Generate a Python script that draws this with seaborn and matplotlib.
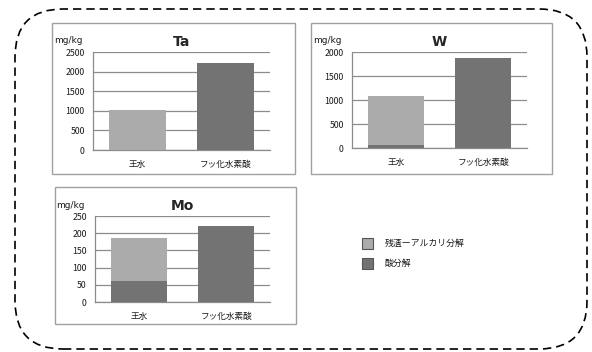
import numpy as np
import pandas as pd
import matplotlib
matplotlib.use('Agg')
import matplotlib.pyplot as plt
import matplotlib.transforms as mtransforms
from matplotlib.patches import FancyBboxPatch, Rectangle
import seaborn as sns

# data
categories = ['王水', 'フッ化水素酸']
ta_acid = [0, 2230]
ta_resid = [1010, 0]
w_acid = [70, 1870]
w_resid = [1020, 0]
mo_acid = [60, 220]
mo_resid = [127, 0]
legend_labels = ['残渣ーアルカリ分解', '酸分解']

LIGHT = '#ababab'
DARK = '#737373'
GRID = '#8c8c8c'

sns.set_theme(style='white')
plt.rcParams['font.family'] = ['Noto Sans CJK JP', 'DejaVu Sans']

W, H = 592, 352
fig = plt.figure(figsize=(W / 100, H / 100), dpi=100)
px = mtransforms.Affine2D().scale(1 / W, 1 / H) + fig.transFigure


def box(x0, y0, x1, y1):
    # pixel coords, y measured from top
    return (x0, H - y1, x1 - x0, y1 - y0)


# outer dashed rounded frame
x, y, w, h = box(15, 9, 587, 349)
fig.patches.append(FancyBboxPatch((x, y), w, h, boxstyle='round,pad=0,rounding_size=48',
                                  transform=px, fill=False, ec='black', lw=1.2,
                                  ls=(0, (5, 3))))

# panel frames
for b in [(52, 23, 295, 174), (311, 23, 552, 174), (55, 187, 296, 324)]:
    x, y, w, h = box(*b)
    fig.patches.append(Rectangle((x, y), w, h, transform=px, fill=False,
                                 ec='#a0a0a0', lw=1.0))


def panel(rect, title, acid, resid, top, step):
    x0, y0, x1, y1 = rect
    ax = fig.add_axes([x0 / W, (H - y1) / H, (x1 - x0) / W, (y1 - y0) / H])
    df = pd.DataFrame({'cat': categories,
                       'total': np.array(acid) + np.array(resid),
                       'acid': acid})
    sns.barplot(data=df, x='cat', y='total', color=LIGHT, width=0.64,
                saturation=1, linewidth=0, ax=ax, zorder=3)
    sns.barplot(data=df, x='cat', y='acid', color=DARK, width=0.64,
                saturation=1, linewidth=0, ax=ax, zorder=4)
    ax.set_ylim(0, top)
    ax.set_yticks(np.arange(0, top + 1, step))
    ax.yaxis.grid(True, color=GRID, lw=0.9, zorder=0)
    ax.set_axisbelow(True)
    for s in ['top', 'right']:
        ax.spines[s].set_visible(False)
    for s in ['left', 'bottom']:
        ax.spines[s].set_color(GRID)
        ax.spines[s].set_linewidth(0.9)
    ax.tick_params(axis='both', length=0, labelsize=6.3, colors='#1a1a1a', pad=6)
    ax.tick_params(axis='x', labelsize=6.2, pad=7)
    ax.set_xlabel('')
    ax.set_ylabel('')
    ax.set_title(title, fontsize=10, fontweight='bold', pad=4,
                 family=['DejaVu Sans'])
    ax.text(-0.06, 1.07, 'mg/kg', transform=ax.transAxes, fontsize=6.5,
            ha='right', va='bottom', family=['DejaVu Sans'], color='#1a1a1a')
    return ax


panel((93, 52, 270, 150), 'Ta', ta_acid, ta_resid, 2500, 500)
panel((352, 52, 527, 148), 'W', w_acid, w_resid, 2000, 500)
panel((95, 216, 270, 302), 'Mo', mo_acid, mo_resid, 250, 50)

# legend
for i, (lab, col) in enumerate(zip(legend_labels, [LIGHT, DARK])):
    yc = 243 + 20 * i
    x, y, w, h = box(362, yc - 5, 373, yc + 6)
    fig.patches.append(Rectangle((x, y), w, h, transform=px, fc=col,
                                 ec='#555555', lw=0.8))
    fig.text(385 / W, (H - yc) / H, lab, fontsize=6.4, va='center', ha='left',
             color='#1a1a1a')

fig.savefig('out.png', dpi=100)
